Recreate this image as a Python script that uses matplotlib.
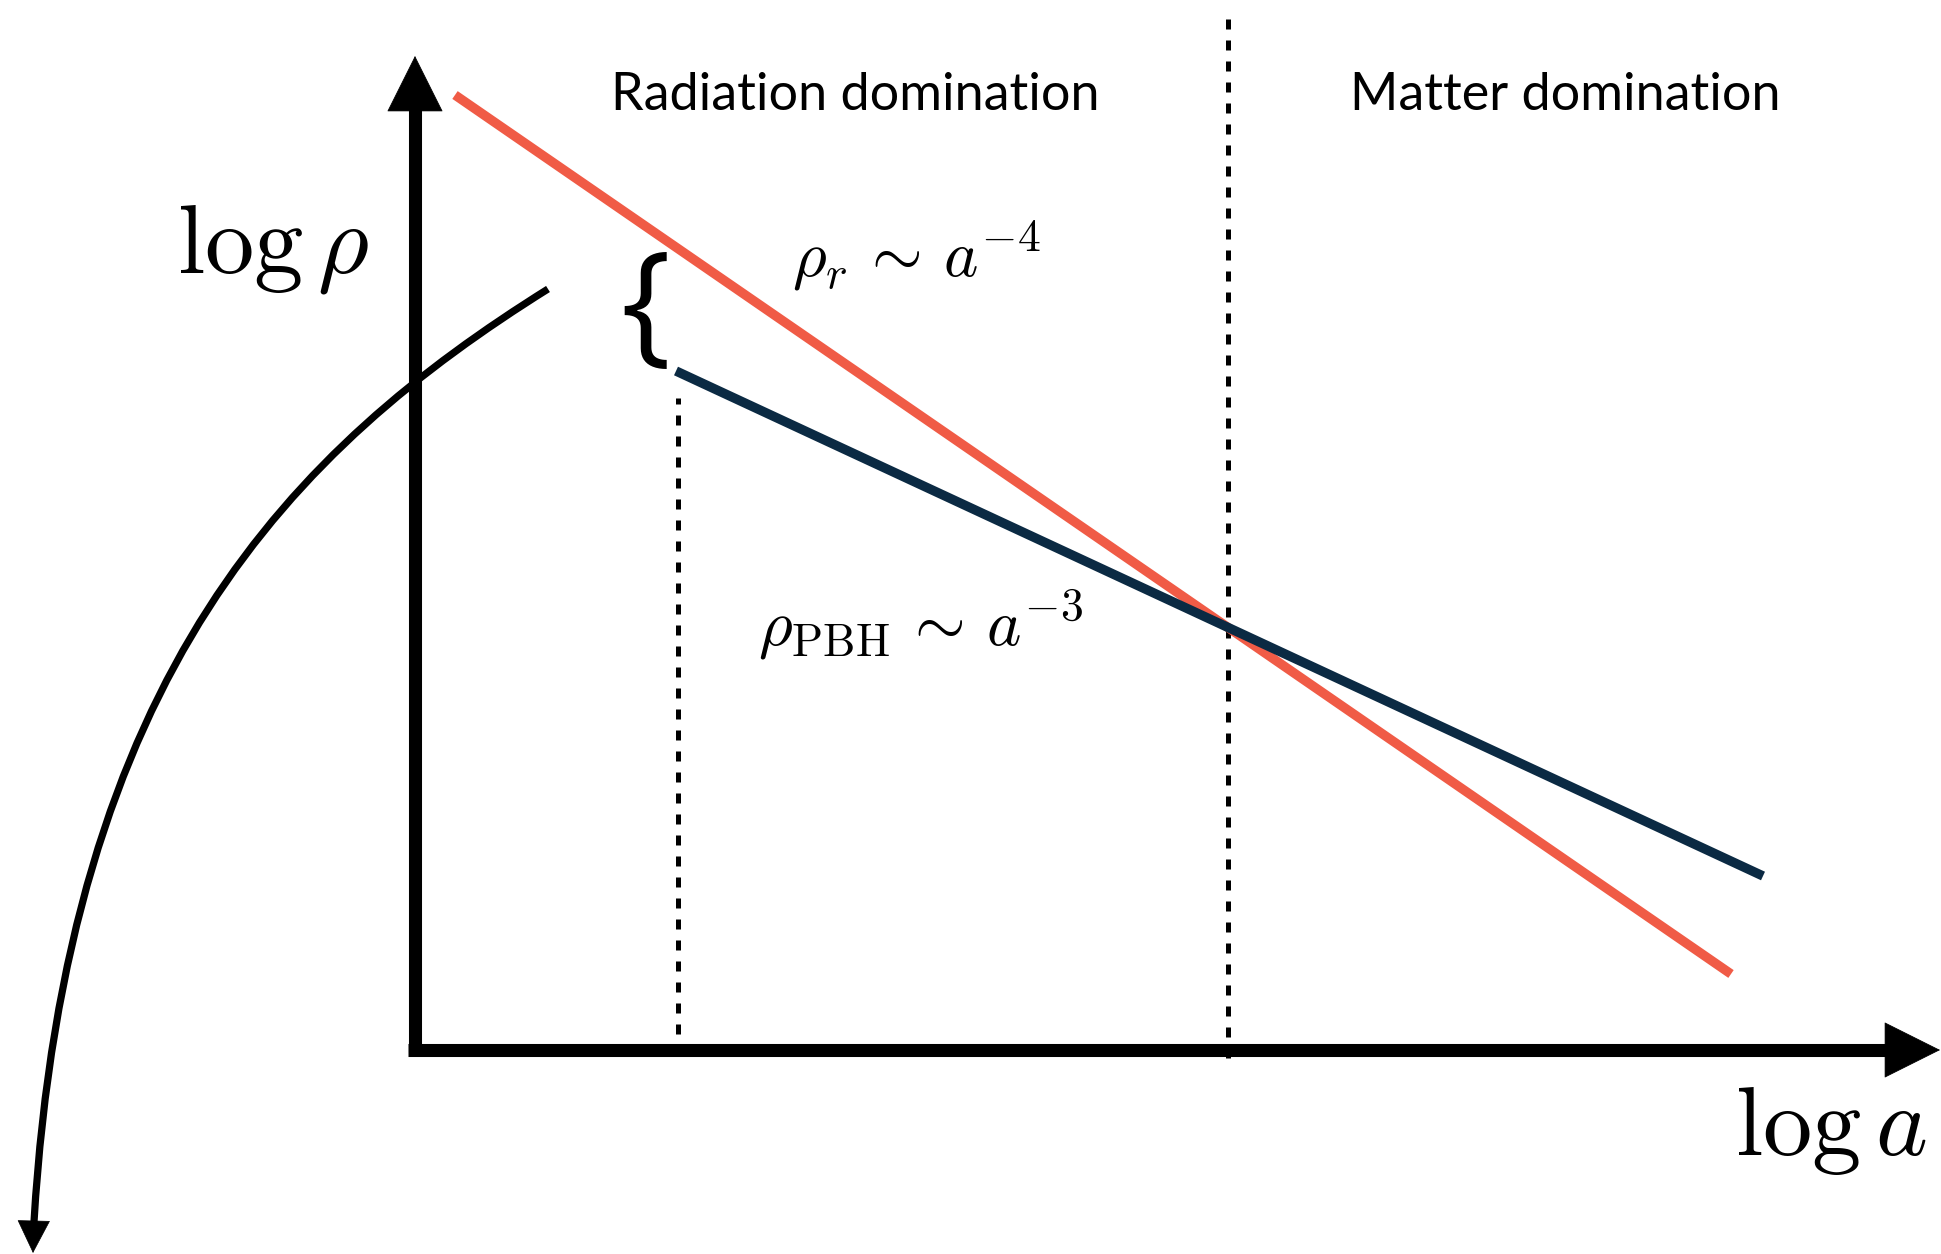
import matplotlib
matplotlib.use("Agg")
import matplotlib.pyplot as plt
from matplotlib.path import Path
from matplotlib.patches import PathPatch
import numpy as np

plt.rcParams['mathtext.fontset'] = 'cm'

# schematic units: log a along x, log rho along y (origin at the axes corner)
x_lim = (-4.15, 15.26)
y_lim = (-2.04, 10.50)
axis_x_end = 15.25
axis_y_end = 9.94

# radiation density, rho_r ~ a^-4
rad_x = [0.40, 13.16]
rad_y = [9.55, 0.76]

# PBH density, rho_PBH ~ a^-3 (starts at formation)
pbh_x = [2.61, 13.48]
pbh_y = [6.79, 1.74]

# formation time and matter-radiation equality
formation_x = 2.63
formation_y = [0.16, 6.52]
equality_x = 8.13
equality_y = [-0.08, 10.40]

# falling curve on the left (cubic bezier), ending in an arrow
fall_ctrl_x = [1.33, -1.21, -3.48, -3.81]
fall_ctrl_y = [7.61, 6.02, 3.78, -1.72]
fall_tip = (-3.82, -2.03)

RED = '#F05B46'
NAVY = '#0B2A43'

fig = plt.figure(figsize=(19.41, 12.54), dpi=100)
ax = fig.add_axes([0, 0, 1, 1])
ax.set_xlim(*x_lim)
ax.set_ylim(*y_lim)
ax.axis('off')

# axes with arrow heads
ax.plot([-0.07, axis_x_end - 0.4], [0, 0], color='k', lw=9.4, solid_capstyle='butt')
ax.plot([0, 0], [-0.02, axis_y_end - 0.4], color='k', lw=9.4, solid_capstyle='butt')
head = dict(arrowstyle='-|>,head_length=0.5,head_width=0.25', mutation_scale=78,
            color='k', lw=0.5, shrinkA=0, shrinkB=0)
ax.annotate('', xy=(axis_x_end, 0), xytext=(axis_x_end - 0.6, 0), arrowprops=head)
ax.annotate('', xy=(0, axis_y_end), xytext=(0, axis_y_end - 0.6), arrowprops=head)

# dotted markers
dots = (0, (2.0, 2.2))
ax.plot([equality_x, equality_x], equality_y, color='k', lw=3.6,
        linestyle=dots, dash_capstyle='butt')
ax.plot([formation_x, formation_x], formation_y, color='k', lw=3.6,
        linestyle=dots, dash_capstyle='butt')

# density lines
ax.plot(rad_x, rad_y, color=RED, lw=6.8, solid_capstyle='butt')
ax.plot(pbh_x, pbh_y, color=NAVY, lw=6.8, solid_capstyle='butt')

# left curve
verts = list(zip(fall_ctrl_x, fall_ctrl_y))
codes = [Path.MOVETO, Path.CURVE4, Path.CURVE4, Path.CURVE4]
ax.add_patch(PathPatch(Path(verts, codes), facecolor='none', edgecolor='k',
                       lw=5.2, capstyle='butt'))
small_head = dict(arrowstyle='-|>,head_length=0.5,head_width=0.25', mutation_scale=45,
                  color='k', lw=0.5, shrinkA=0, shrinkB=0)
ax.annotate('', xy=fall_tip, xytext=(fall_ctrl_x[-1], fall_ctrl_y[-1] + 0.1),
            arrowprops=small_head)

# labels
ax.text(4.40, 9.40, 'Radiation domination', family='Lato', fontsize=37.5,
        ha='center', va='baseline')
ax.text(11.50, 9.40, 'Matter domination', family='Lato', fontsize=37.5,
        ha='center', va='baseline')
ax.text(-2.38, 7.77, r'$\log\rho$', fontsize=71, ha='left', va='baseline')
ax.text(15.12, -1.05, r'$\log a$', fontsize=71, ha='right', va='baseline')
ax.text(3.77, 7.73, r'$\rho_r \,\sim\, a^{-4}$', fontsize=47, ha='left', va='baseline')
ax.text(3.43, 4.05, r'$\rho_{\rm PBH} \,\sim\, a^{-3}$', fontsize=47, ha='left', va='baseline')
ax.text(2.30, 7.37, '{', family='Open Sans', fontsize=96, ha='center', va='center')

fig.savefig('out.png', dpi=100)
